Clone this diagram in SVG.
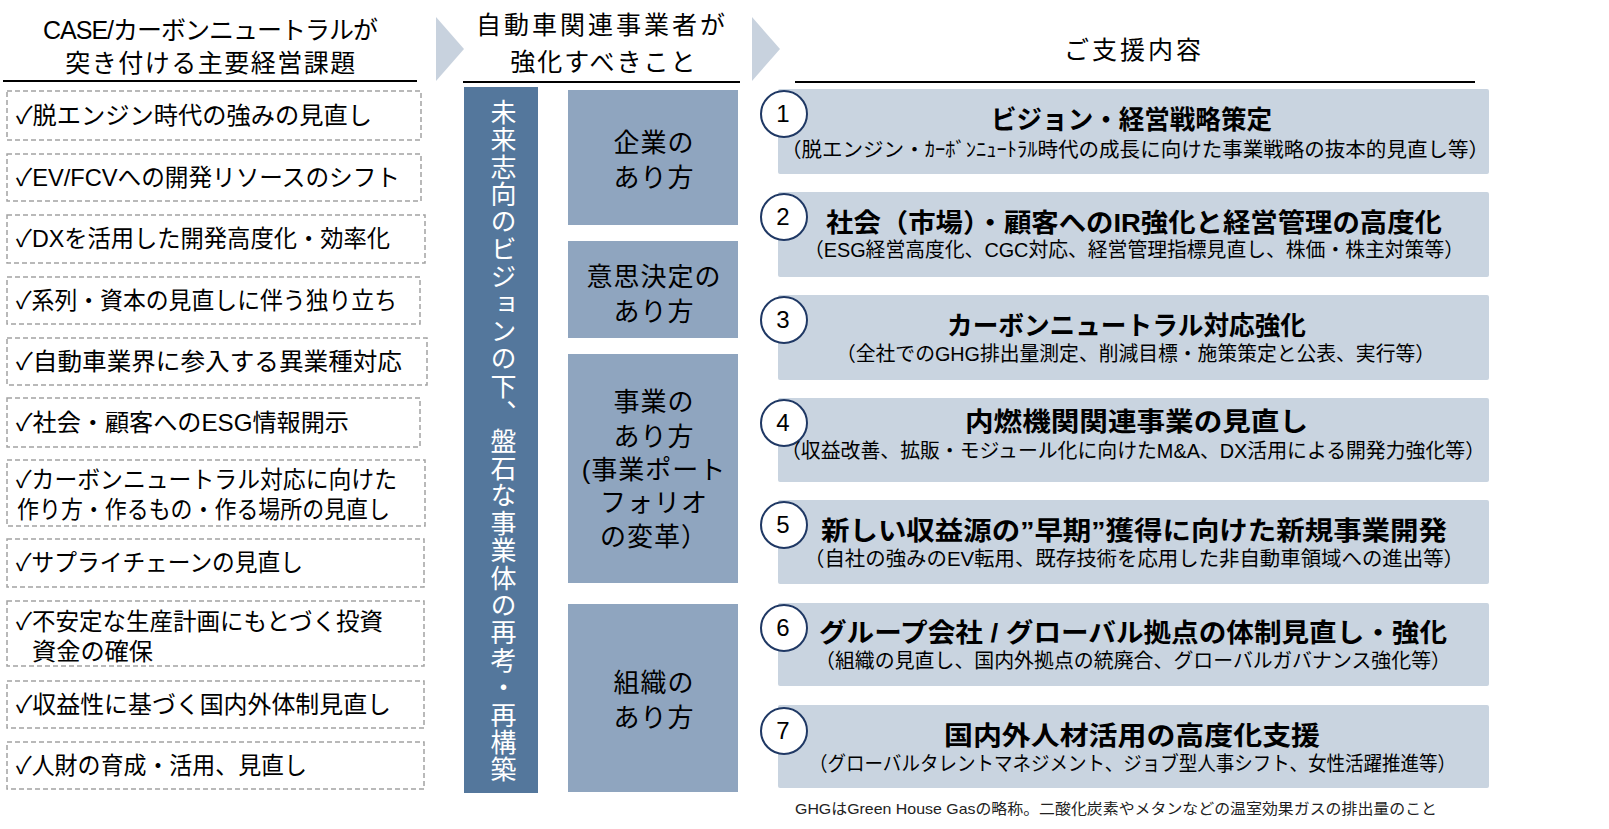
<svg xmlns="http://www.w3.org/2000/svg" width="1609" height="829" viewBox="0 0 1609 829">
<style>
text{font-family:"Liberation Sans","Noto Sans CJK JP",sans-serif;fill:#000}
.hd{font-size:25px}
.lt{font-size:24px}
.dash{fill:#fff;stroke:#a3a3a3;stroke-width:1.5;stroke-dasharray:5 3}
.ul{stroke:#000;stroke-width:2}
.chev{fill:#c8d2de}
.mid{fill:#8fa5bf}
.mt{font-size:26px;text-anchor:middle;letter-spacing:1px}
.rb{fill:#c9d4e0}
.circ{fill:#fff;stroke:#1f3864;stroke-width:2}
.num{font-size:24px;text-anchor:middle}
.tt{font-size:26px;font-weight:bold}
.st{font-size:20px}
</style>
<rect width="1609" height="829" fill="#fff"/>

<g id="headers">
  <text class="hd" x="210" y="39" text-anchor="middle" letter-spacing="-1">CASE/カーボンニュートラルが</text>
  <text class="hd" x="211" y="72" text-anchor="middle" letter-spacing="1.5">突き付ける主要経営課題</text>
  <line class="ul" x1="3" y1="81" x2="417" y2="81"/>
  <text class="hd" x="602" y="34" text-anchor="middle" letter-spacing="3">自動車関連事業者が</text>
  <text class="hd" x="604" y="71" text-anchor="middle" letter-spacing="2">強化すべきこと</text>
  <line class="ul" x1="463" y1="82" x2="740" y2="82"/>
  <text class="hd" x="1134" y="59" text-anchor="middle" letter-spacing="3">ご支援内容</text>
  <line class="ul" x1="795" y1="82" x2="1475" y2="82"/>
</g>

<g id="chevrons">
  <polygon class="chev" points="436,17 464,49 436,81"/>
  <polygon class="chev" points="752,17 780,49 752,81"/>
</g>

<g id="issues">
  <g id="issue1"><rect class="dash" x="7" y="91" width="414" height="49"/><text class="lt" x="16" y="124" textLength="356" lengthAdjust="spacingAndGlyphs">✓脱エンジン時代の強みの見直し</text></g>
  <g id="issue2"><rect class="dash" x="7" y="154" width="414" height="47"/><text class="lt" x="16" y="186" textLength="384" lengthAdjust="spacingAndGlyphs">✓EV/FCVへの開発リソースのシフト</text></g>
  <g id="issue3"><rect class="dash" x="7" y="215" width="418" height="48"/><text class="lt" x="16" y="247" textLength="374" lengthAdjust="spacingAndGlyphs">✓DXを活用した開発高度化・効率化</text></g>
  <g id="issue4"><rect class="dash" x="7" y="277" width="413" height="47"/><text class="lt" x="16" y="309" textLength="381" lengthAdjust="spacingAndGlyphs">✓系列・資本の見直しに伴う独り立ち</text></g>
  <g id="issue5"><rect class="dash" x="7" y="338" width="420" height="47"/><text class="lt" x="16" y="370" textLength="386" lengthAdjust="spacingAndGlyphs">✓自動車業界に参入する異業種対応</text></g>
  <g id="issue6"><rect class="dash" x="7" y="398" width="413" height="49"/><text class="lt" x="16" y="431" textLength="333" lengthAdjust="spacingAndGlyphs">✓社会・顧客へのESG情報開示</text></g>
  <g id="issue7"><rect class="dash" x="7" y="460" width="418" height="66"/><text class="lt" x="16" y="488" textLength="381" lengthAdjust="spacingAndGlyphs">✓カーボンニュートラル対応に向けた</text><text class="lt" x="17" y="518" textLength="373" lengthAdjust="spacingAndGlyphs">作り方・作るもの・作る場所の見直し</text></g>
  <g id="issue8"><rect class="dash" x="7" y="539" width="417" height="48"/><text class="lt" x="16" y="571" textLength="287" lengthAdjust="spacingAndGlyphs">✓サプライチェーンの見直し</text></g>
  <g id="issue9"><rect class="dash" x="7" y="601" width="417" height="65"/><text class="lt" x="16" y="630" textLength="367" lengthAdjust="spacingAndGlyphs">✓不安定な生産計画にもとづく投資</text><text class="lt" x="32" y="660" textLength="121" lengthAdjust="spacingAndGlyphs">資金の確保</text></g>
  <g id="issue10"><rect class="dash" x="7" y="681" width="417" height="47"/><text class="lt" x="16" y="713" textLength="375" lengthAdjust="spacingAndGlyphs">✓収益性に基づく国内外体制見直し</text></g>
  <g id="issue11"><rect class="dash" x="7" y="742" width="417" height="47"/><text class="lt" x="16" y="774" textLength="291" lengthAdjust="spacingAndGlyphs">✓人財の育成・活用、見直し</text></g>
</g>

<g id="vision">
  <rect x="464" y="87" width="74" height="706" fill="#54779c"/>
  <text x="501" y="99" font-size="26" letter-spacing="1.4" style="writing-mode:vertical-rl;fill:#fff">未来志向のビジョンの下、盤石な事業体の再考・再構築</text>
</g>

<g id="aspects">
  <g id="aspect1"><rect class="mid" x="568" y="90" width="170" height="135"/><text class="mt" x="654" y="152">企業の</text><text class="mt" x="654" y="187">あり方</text></g>
  <g id="aspect2"><rect class="mid" x="568" y="241" width="170" height="97"/><text class="mt" x="654" y="286">意思決定の</text><text class="mt" x="654" y="321">あり方</text></g>
  <g id="aspect3"><rect class="mid" x="568" y="354" width="170" height="229"/><text class="mt" x="654" y="411">事業の</text><text class="mt" x="654" y="446">あり方</text><text class="mt" x="654" y="479">(事業ポート</text><text class="mt" x="654" y="512">フォリオ</text><text class="mt" x="654" y="546">の変革）</text></g>
  <g id="aspect4"><rect class="mid" x="568" y="604" width="170" height="188"/><text class="mt" x="654" y="692">組織の</text><text class="mt" x="654" y="727">あり方</text></g>
</g>

<g id="supports">
  <g id="support1"><rect class="rb" x="778" y="89" width="711" height="85" rx="2"/><circle class="circ" cx="784" cy="114" r="23"/><text class="num" x="783" y="122">1</text>
    <text class="tt" x="991" y="129" textLength="281" lengthAdjust="spacingAndGlyphs">ビジョン・経営戦略策定</text>
    <text class="st" x="781" y="157" textLength="708" lengthAdjust="spacingAndGlyphs">（脱エンジン・ｶｰﾎﾞﾝﾆｭｰﾄﾗﾙ時代の成長に向けた事業戦略の抜本的見直し等）</text></g>
  <g id="support2"><rect class="rb" x="778" y="192" width="711" height="85" rx="2"/><circle class="circ" cx="784" cy="217" r="23"/><text class="num" x="783" y="225">2</text>
    <text class="tt" x="826" y="232" textLength="616" lengthAdjust="spacingAndGlyphs">社会（市場）・顧客へのIR強化と経営管理の高度化</text>
    <text class="st" x="804" y="257" textLength="660" lengthAdjust="spacingAndGlyphs">（ESG経営高度化、CGC対応、経営管理指標見直し、株価・株主対策等）</text></g>
  <g id="support3"><rect class="rb" x="778" y="295" width="711" height="85" rx="2"/><circle class="circ" cx="784" cy="320" r="23"/><text class="num" x="783" y="328">3</text>
    <text class="tt" x="947" y="335" textLength="359" lengthAdjust="spacingAndGlyphs">カーボンニュートラル対応強化</text>
    <text class="st" x="836" y="361" textLength="599" lengthAdjust="spacingAndGlyphs">（全社でのGHG排出量測定、削減目標・施策策定と公表、実行等）</text></g>
  <g id="support4"><rect class="rb" x="778" y="398" width="711" height="84" rx="2"/><circle class="circ" cx="784" cy="423" r="23"/><text class="num" x="783" y="431">4</text>
    <text class="tt" x="965" y="431" textLength="343" lengthAdjust="spacingAndGlyphs">内燃機関関連事業の見直し</text>
    <text class="st" x="781" y="458" textLength="704" lengthAdjust="spacingAndGlyphs">（収益改善、拡販・モジュール化に向けたM&amp;A、DX活用による開発力強化等）</text></g>
  <g id="support5"><rect class="rb" x="778" y="500" width="711" height="84" rx="2"/><circle class="circ" cx="784" cy="525" r="23"/><text class="num" x="783" y="533">5</text>
    <text class="tt" x="821" y="540" textLength="626" lengthAdjust="spacingAndGlyphs">新しい収益源の”早期”獲得に向けた新規事業開発</text>
    <text class="st" x="804" y="566" textLength="660" lengthAdjust="spacingAndGlyphs">（自社の強みのEV転用、既存技術を応用した非自動車領域への進出等）</text></g>
  <g id="support6"><rect class="rb" x="778" y="603" width="711" height="83" rx="2"/><circle class="circ" cx="784" cy="628" r="23"/><text class="num" x="783" y="636">6</text>
    <text class="tt" x="819" y="642" textLength="628" lengthAdjust="spacingAndGlyphs">グループ会社 / グローバル拠点の体制見直し・強化</text>
    <text class="st" x="815" y="668" textLength="636" lengthAdjust="spacingAndGlyphs">（組織の見直し、国内外拠点の統廃合、グローバルガバナンス強化等）</text></g>
  <g id="support7"><rect class="rb" x="778" y="705" width="711" height="83" rx="2"/><circle class="circ" cx="784" cy="731" r="23"/><text class="num" x="783" y="739">7</text>
    <text class="tt" x="944" y="745" textLength="376" lengthAdjust="spacingAndGlyphs">国内外人材活用の高度化支援</text>
    <text class="st" x="809" y="771" textLength="647" lengthAdjust="spacingAndGlyphs">（グローバルタレントマネジメント、ジョブ型人事シフト、女性活躍推進等）</text></g>
</g>

<g id="connectors"></g>

<g id="footnote">
  <text x="795" y="814" font-size="15" textLength="642" lengthAdjust="spacingAndGlyphs" style="fill:#222">GHGはGreen House Gasの略称。二酸化炭素やメタンなどの温室効果ガスの排出量のこと</text>
</g>
</svg>
